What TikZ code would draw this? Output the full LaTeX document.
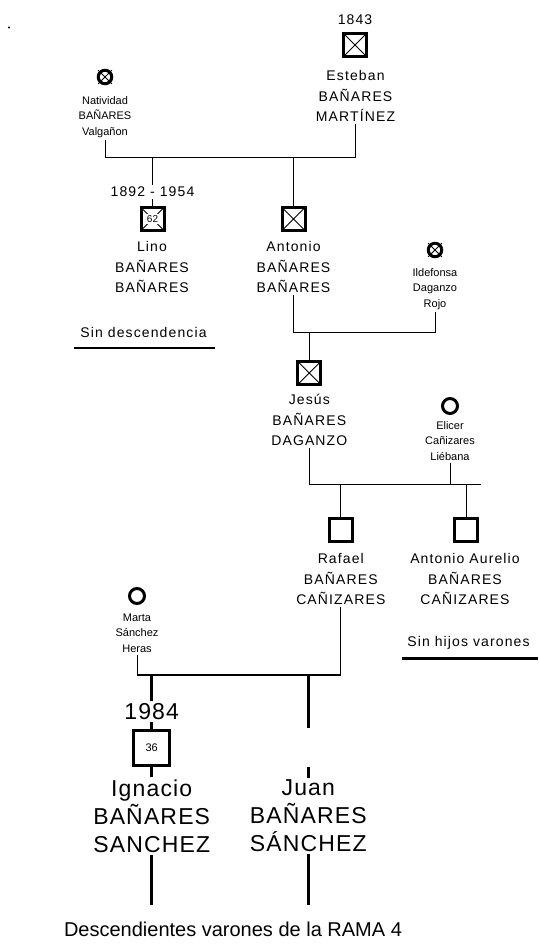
\documentclass[tikz,border=0pt]{standalone}
\usepackage{fontspec}
\setmainfont{Liberation Sans}
\newfontfamily\spacedfont[LetterSpace=8]{Liberation Sans}
\newfontfamily\bigspacedfont[LetterSpace=5]{Liberation Sans}
\begin{document}
\begin{tikzpicture}[x=1pt,y=-1pt,
  male/.style={draw,rectangle,line width=3pt,minimum size=23pt,inner sep=0pt},
  female/.style={draw,circle,line width=3pt,minimum size=15pt,inner sep=0pt},
  dead/.style={path picture={\draw[line width=0.8pt]
      (path picture bounding box.north west) -- (path picture bounding box.south east)
      (path picture bounding box.south west) -- (path picture bounding box.north east);}},
  nametxt/.style={align=center,font=\spacedfont\fontsize{14}{20.5}\selectfont,inner sep=2pt},
  smalltxt/.style={align=center,font=\fontsize{11}{15.5}\selectfont,inner sep=2pt},
  bigtxt/.style={align=center,font=\bigspacedfont\fontsize{23}{28}\selectfont,inner sep=2pt},
  link/.style={line width=1pt},
  heavy/.style={line width=2.8pt}]
  \useasboundingbox (0,0) rectangle (538,947);

  \path
  (355,19.5)   node[nametxt](y1843)         {1843}
  (355,45)     node[male,dead](esteban)     {}
  (355.5,96)   node[nametxt](estebantxt)    {Esteban\\BAÑARES\\MARTÍNEZ}
  (105,77)     node[female,minimum size=13.5pt](natividad) {}
  (105,117)    node[smalltxt](natividadtxt) {Natividad\\BAÑARES\\Valgañon}

  (152.5,192)  node[nametxt](y1892)         {1892 - 1954}
  (152.5,219)  node[male,dead](lino)        {}
  (152.5,219)  node[fill=white,inner sep=1pt,font=\fontsize{10}{12}\selectfont](lino62) {62}
  (152,267)    node[nametxt](linotxt)       {Lino\\BAÑARES\\BAÑARES}
  (293.5,219)  node[male,dead](antonio)     {}
  (293.5,267)  node[nametxt](antoniotxt)    {Antonio\\BAÑARES\\BAÑARES}
  (435,250)    node[female,minimum size=13.5pt](ildefonsa) {}
  (435,289)    node[smalltxt](ildefonsatxt) {Ildefonsa\\Daganzo\\Rojo}
  (143.5,332)  node[nametxt](sindesc)       {Sin descendencia}

  (309.3,373)  node[male,dead](jesus)       {}
  (309.3,420)  node[nametxt](jesustxt)      {Jesús\\BAÑARES\\DAGANZO}
  (450,406)    node[female](elicer)         {}
  (450,441)    node[smalltxt](elicertxt)    {Elicer\\Cañizares\\Liébana}

  (340.8,530)  node[male](rafael)           {}
  (340.8,579)  node[nametxt](rafaeltxt)     {Rafael\\BAÑARES\\CAÑIZARES}
  (466,530)    node[male](aurelio)          {}
  (465,579)    node[nametxt](aureliotxt)    {Antonio Aurelio\\BAÑARES\\CAÑIZARES}
  (137,596)    node[female](marta)          {}
  (137,633)    node[smalltxt](martatxt)     {Marta\\Sánchez\\Heras}
  (468.5,642.5) node[nametxt](sinhijos)     {Sin hijos varones}

  (151.7,711.7) node[bigtxt](y1984)         {1984}
  (151.7,748)  node[male,minimum size=35.5pt,font=\fontsize{11}{13}\selectfont](ignacio) {36}
  (151.7,816)  node[bigtxt](ignaciotxt)     {Ignacio\\BAÑARES\\SANCHEZ}
  (308.3,816)  node[bigtxt](juantxt)        {Juan\\BAÑARES\\SÁNCHEZ}
  (233,929)    node[font=\fontsize{20}{24}\selectfont](rama) {Descendientes varones de la RAMA 4}
  ;

  \coordinate (u1) at (0,157);
  \coordinate (u2) at (0,332.6);
  \coordinate (u3) at (0,484);
  \coordinate (u3end) at (481,484);
  \coordinate (u4) at (0,675);
  \coordinate (juanmid) at (308.3,728);
  \coordinate (juangap) at (308.3,767);
  \coordinate (end1) at (151.7,905);
  \coordinate (end2) at (308.3,905);
  \coordinate (sd1) at (74,348);
  \coordinate (sd2) at (214.5,348);
  \coordinate (sh1) at (402,658.5);
  \coordinate (sh2) at (538,658.5);

  \fill (9,27.5) circle (1.1pt);

  % crosses on the dead women
  \draw[line width=0.8pt,shorten <=-1.5pt,shorten >=-1.5pt] (natividad.north west) -- (natividad.south east);
  \draw[line width=0.8pt,shorten <=-1.5pt,shorten >=-1.5pt] (natividad.south west) -- (natividad.north east);
  \draw[line width=0.8pt,shorten <=-1.5pt,shorten >=-1.5pt] (ildefonsa.north west) -- (ildefonsa.south east);
  \draw[line width=0.8pt,shorten <=-1.5pt,shorten >=-1.5pt] (ildefonsa.south west) -- (ildefonsa.north east);

  \draw[link] (natividadtxt.south) -- (natividadtxt.south |- u1) -- (estebantxt.south |- u1) -- (estebantxt.south);
  \draw[link] (y1892.north |- u1) -- (y1892.north);
  \draw[link] (y1892.south) -- (lino.north);
  \draw[link] (antonio.north |- u1) -- (antonio.north);

  \draw[link] (antoniotxt.south) -- (antoniotxt.south |- u2) -- (ildefonsatxt.south |- u2) -- (ildefonsatxt.south);
  \draw[link] (jesus.north |- u2) -- (jesus.north);
  \draw[heavy] (sd1) -- (sd2);

  \draw[link] (jesustxt.south) -- (jesustxt.south |- u3) -- (u3end);
  \draw[link] (elicertxt.south) -- (elicertxt.south |- u3);
  \draw[link] (rafael.north |- u3) -- (rafael.north);
  \draw[link] (aurelio.north |- u3) -- (aurelio.north);

  \draw[link] (martatxt.south) -- (martatxt.south |- u4);
  \draw[link] (rafaeltxt.south) -- (rafaeltxt.south |- u4);
  \draw[line width=2.2pt] (martatxt.south |- u4) -- (rafaeltxt.south |- u4);
  \draw[heavy] (sh1) -- (sh2);

  \draw[heavy] (y1984.north |- u4) -- (y1984.north);
  \draw[heavy] (y1984.south) -- (ignacio.north);
  \draw[heavy] (ignacio.south) -- (ignaciotxt.north);
  \draw[heavy] (ignaciotxt.south) -- (end1);
  \draw[heavy] (juantxt.north |- u4) -- (juanmid);
  \draw[heavy] (juangap) -- (juantxt.north);
  \draw[heavy] (juantxt.south) -- (end2);
\end{tikzpicture}
\end{document}
